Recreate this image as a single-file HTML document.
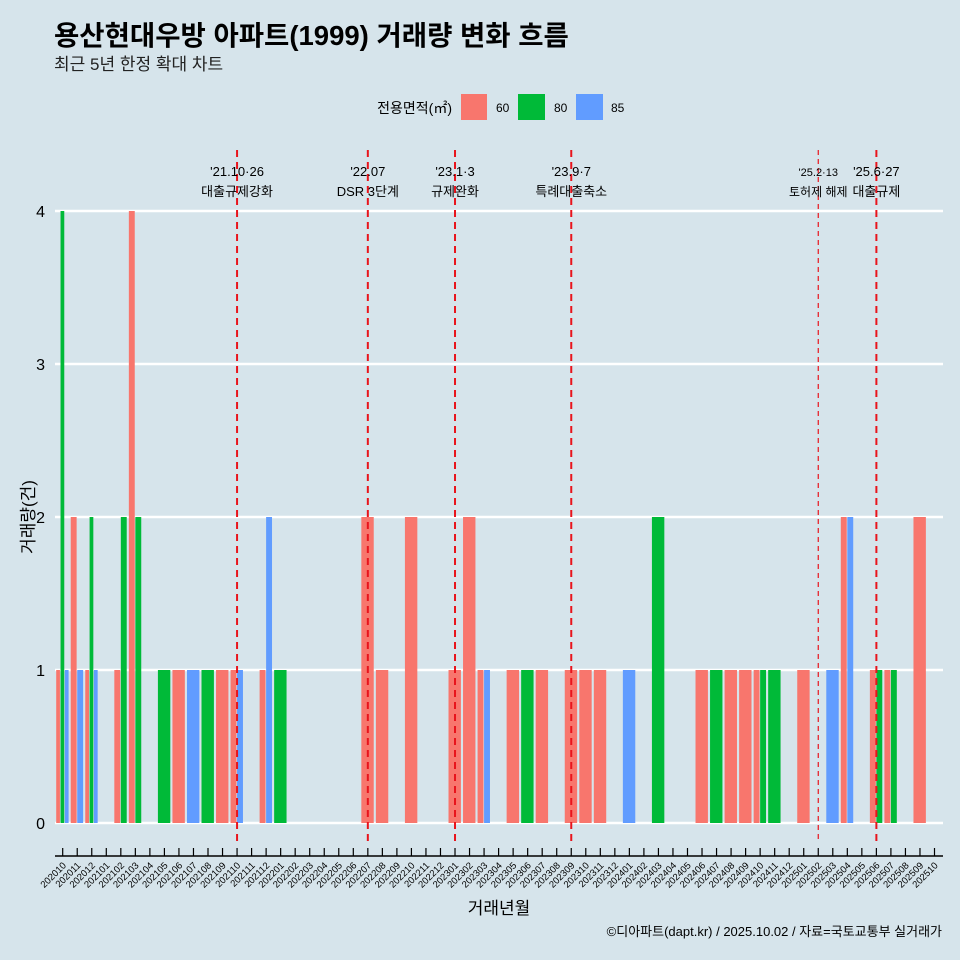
<!DOCTYPE html>
<html><head><meta charset="utf-8"><style>
html,body{margin:0;padding:0;background:#d6e4eb;overflow:hidden;width:960px;height:960px;}
svg{display:block;}
svg text{font-family:"Liberation Sans","Noto Sans CJK KR",sans-serif;}
</style></head><body>
<svg width="960" height="960" viewBox="0 0 960 960" xmlns="http://www.w3.org/2000/svg">
<rect width="960" height="960" fill="#d6e4eb"/>
<text x="54" y="45" font-size="27.5" font-weight="bold" fill="#000">용산현대우방 아파트(1999) 거래량 변화 흐름</text>
<text x="54" y="70" font-size="17" fill="#222">최근 5년 한정 확대 차트</text>
<g>
<text x="452" y="113" font-size="14" text-anchor="end">전용면적(㎡)</text>
<rect x="461" y="94" width="26" height="26" fill="#f8766d"/>
<text x="496" y="112" font-size="12">60</text>
<rect x="518" y="94" width="27" height="26" fill="#00ba38"/>
<text x="554" y="112" font-size="12">80</text>
<rect x="576" y="94" width="27" height="26" fill="#619cff"/>
<text x="611" y="112" font-size="12">85</text>
</g>
<g id="grid"></g><g id="bars"></g><g id="events"></g><g id="axes"></g>
<text x="34" y="517" font-size="17" transform="rotate(-90 34 517)" text-anchor="middle">거래량(건)</text>
<text x="499" y="914" font-size="17" text-anchor="middle">거래년월</text>
<text x="942" y="936" font-size="13" text-anchor="end">©디아파트(dapt.kr) / 2025.10.02 / 자료=국토교통부 실거래가</text>
</svg>
<script>
const months=[];for(let y=2020,m=10;y<2025||(y===2025&&m<=10);){months.push(''+y+(m<10?'0':'')+m);m++;if(m>12){m=1;y++;}}
const sizes=['60','80','85'];
const colors={'60':'#f8766d','80':'#00ba38','85':'#619cff'};
const records=[
['202010','60',1],['202010','80',4],['202010','85',1],
['202011','60',2],['202011','85',1],
['202012','60',1],['202012','80',2],['202012','85',1],
['202102','60',1],['202102','80',2],
['202103','60',4],['202103','80',2],
['202105','80',1],['202106','60',1],['202107','85',1],['202108','80',1],['202109','60',1],
['202110','60',1],['202110','85',1],
['202112','60',1],['202112','85',2],['202201','80',1],
['202207','60',2],['202208','60',1],['202210','60',2],
['202301','60',1],['202302','60',2],['202303','60',1],['202303','85',1],
['202305','60',1],['202306','80',1],['202307','60',1],
['202309','60',1],['202310','60',1],['202311','60',1],
['202401','85',1],['202403','80',2],
['202406','60',1],['202407','80',1],['202408','60',1],['202409','60',1],
['202410','60',1],['202410','80',1],['202411','80',1],
['202501','60',1],['202503','85',1],['202504','60',2],['202504','85',2],
['202506','60',1],['202506','80',1],['202507','60',1],['202507','80',1],
['202509','60',2]];
const yTicks=[0,1,2,3,4];
const eventMonths=['202110','202207','202301','202309','202502','202506'];
const eventLine1=["'21.10·26","'22.07","'23.1·3","'23.9·7","'25.2·13","'25.6·27"];
const eventLine2=['대출규제강화','DSR 3단계','규제완화','특례대출축소','토허제 해제','대출규제'];
const NS='http://www.w3.org/2000/svg';
const x=m=>62.7+months.indexOf(m)*14.53;
const y=v=>823-v*153;
function mk(tag,attrs,parent){const e=document.createElementNS(NS,tag);for(const k in attrs)e.setAttribute(k,attrs[k]);document.getElementById(parent).appendChild(e);return e;}
yTicks.forEach(t=>{
 const l=mk('line',{x1:55,x2:943,y1:y(t),y2:y(t),stroke:'#fff','stroke-width':2.5},'grid');
 
 
 const tx=mk('text',{x:45,y:y(t)+6,'font-size':16,'text-anchor':'end'},'axes');tx.textContent=t;
 
 
});
months.forEach(m=>{
 const recs=records.filter(r=>r[0]===m);if(!recs.length)return;
 const w=13/recs.length;const x0=x(m)-6.5;
 recs.forEach((r,i)=>{
  const b=mk('rect',{x:x0+i*w,y:y(r[2]),width:w-0.6,height:y(0)-y(r[2]),fill:colors[r[1]]},'bars');
  
  
 });
});
eventMonths.forEach((m,i)=>{
 const thin=m==='202502';
 const l=mk('line',{x1:x(m),x2:x(m),y1:150,y2:842,stroke:'#e8141c','stroke-width':thin?1.2:2,'stroke-dasharray':thin?'5,4':'7,5'},'events');
 
 
 const fs=thin?11:13;
 const t1=mk('text',{x:x(m),y:176,'font-size':fs,'text-anchor':'middle'},'events');t1.textContent=eventLine1[i];
 
 
 const t2=mk('text',{x:x(m),y:196,'font-size':thin?12:13,'text-anchor':'middle'},'events');t2.textContent=eventLine2[i];
 
 
});
const ax=mk('line',{x1:55,x2:943,y1:856,y2:856,stroke:'#000','stroke-width':1.5},'axes');


months.forEach(m=>{
 const tk=mk('line',{x1:x(m),x2:x(m),y1:848,y2:856,stroke:'#000','stroke-width':1.2},'axes');
 
 
 const tx=mk('text',{x:x(m)+4,y:866,'font-size':9.5,'text-anchor':'end',transform:`rotate(-45 ${x(m)+4} 866)`},'axes');tx.textContent=m;
 
 
});
</script>
</body></html>
